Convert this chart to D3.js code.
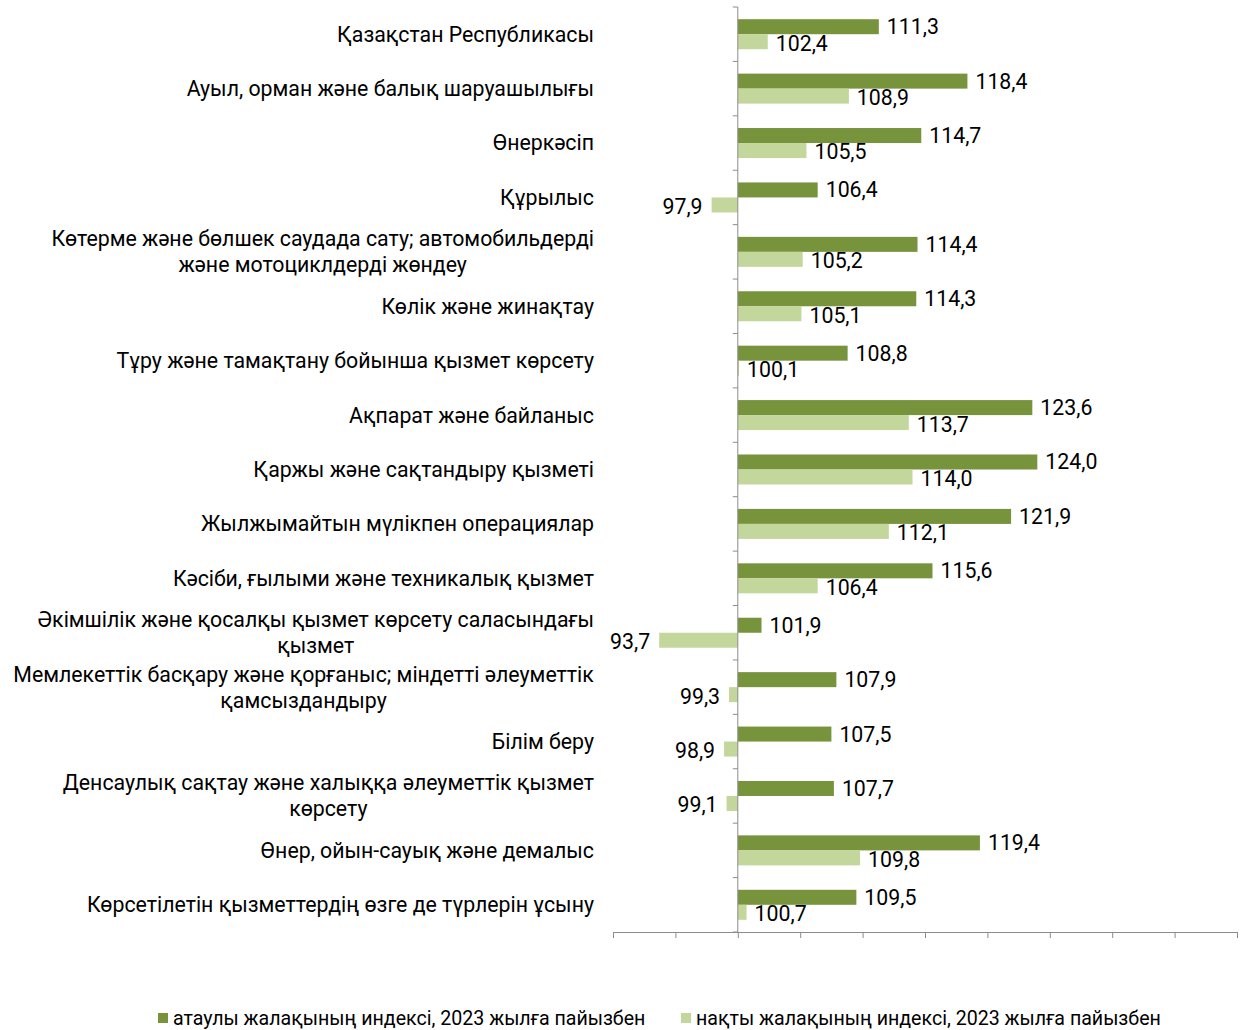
<!DOCTYPE html>
<meta charset="utf-8">
<style>
body { margin: 0; background: #fff; }
text { font-family: Roboto, "Noto Sans", sans-serif; fill: #000; }
.cat { font-size: 21.3px; }
.val { font-size: 21.3px; }
.leg { font-size: 19.6px; }
.axis path, .axis line { stroke: #8c8c8c; }
</style>
<body>
<script src="https://d3js.org/d3.v7.min.js"></script>
<script>
// categories (\n = line break as in the original)
var categories = [
  "Қазақстан Республикасы",
  "Ауыл, орман және балық шаруашылығы",
  "Өнеркәсіп",
  "Құрылыс",
  "Көтерме және бөлшек саудада сату; автомобильдерді\nжәне мотоциклдерді жөндеу",
  "Көлік және жинақтау",
  "Тұру және тамақтану бойынша қызмет көрсету",
  "Ақпарат және байланыс",
  "Қаржы және сақтандыру қызметі",
  "Жылжымайтын мүлікпен операциялар",
  "Кәсіби, ғылыми және техникалық қызмет",
  "Әкімшілік және қосалқы қызмет көрсету саласындағы\nқызмет",
  "Мемлекеттік басқару және қорғаныс; міндетті әлеуметтік\nқамсыздандыру",
  "Білім беру",
  "Денсаулық сақтау және халыққа әлеуметтік қызмет\nкөрсету",
  "Өнер, ойын-сауық және демалыс",
  "Көрсетілетін қызметтердің өзге де түрлерін ұсыну"
];
var nominal = [111.3, 118.4, 114.7, 106.4, 114.4, 114.3, 108.8, 123.6, 124.0, 121.9, 115.6, 101.9, 107.9, 107.5, 107.7, 119.4, 109.5];
var real    = [102.4, 108.9, 105.5, 97.9, 105.2, 105.1, 100.1, 113.7, 114.0, 112.1, 106.4, 93.7, 99.3, 98.9, 99.1, 109.8, 100.7];
var seriesNames = ["атаулы жалақының индексі, 2023 жылға пайызбен", "нақты жалақының индексі, 2023 жылға пайызбен"];
var colors = ["#77933c", "#c3d69b"];
var xTicks = d3.range(90, 141, 5);

var width = 1242, height = 1030;
var svg = d3.select("body").append("svg").attr("width", width).attr("height", height);

var x = d3.scaleLinear().domain([90, 140]).range([613, 1237]);
var y = d3.scaleBand().domain(d3.range(categories.length)).range([7, 932]);
var barH = 15;

var fmt = function(v) { return d3.format(".1f")(v).replace(".", ","); };

// bars
var g = svg.append("g");
[nominal, real].forEach(function(series, si) {
  var off = si === 0 ? -barH : 0;
  g.selectAll(".b" + si).data(series).enter().append("rect")
    .attr("x", function(d) { return x(Math.min(100, d)); })
    .attr("width", function(d) { return Math.abs(x(d) - x(100)); })
    .attr("y", function(d, i) { return y(i) + y.bandwidth() / 2 + off; })
    .attr("height", barH)
    .attr("fill", colors[si]);
  g.selectAll(".v" + si).data(series).enter().append("text")
    .attr("class", "val")
    .attr("x", function(d) { return d >= 100 ? x(d) + 8 : x(d) - 9; })
    .attr("y", function(d, i) { return y(i) + y.bandwidth() / 2 + off + barH / 2 + (si ? 1.5 : 0); })
    .attr("dy", "0.35em")
    .attr("text-anchor", function(d) { return d >= 100 ? "start" : "end"; })
    .text(fmt);
});

// x axis (no labels)
svg.append("g").attr("class", "axis")
  .attr("transform", "translate(0,932)")
  .call(d3.axisBottom(x).tickValues(xTicks).tickSize(6).tickFormat(""));

// vertical axis at 100 with ticks at band edges
var yAxis = svg.append("g").attr("class", "axis");
yAxis.append("line").attr("x1", x(100)).attr("x2", x(100)).attr("y1", 7).attr("y2", 932);
yAxis.selectAll(".yt").data(d3.range(categories.length + 1)).enter().append("line")
  .attr("x1", x(100) - 5).attr("x2", x(100))
  .attr("y1", function(i) { return 7 + i * y.step(); })
  .attr("y2", function(i) { return 7 + i * y.step(); });

// category labels
svg.selectAll(".cat").data(categories).enter().append("text")
  .attr("class", "cat")
  .attr("text-anchor", "middle")
  .each(function(d, i) {
    var lines = d.split("\n");
    var t = d3.select(this);
    var cy = y(i) + y.bandwidth() / 2;
    var lh = 26;
    t.attr("y", cy - (lines.length - 1) * lh / 2);
    lines.forEach(function(l, k) {
      t.append("tspan").attr("x", 0).attr("dy", k === 0 ? "0.35em" : lh).text(l);
    });
  });
// right-align block, center inner lines (like Excel)
svg.selectAll("text.cat").each(function() {
  var t = d3.select(this);
  var bb = this.getBBox();
  var cx = 594 - bb.width / 2;
  t.selectAll("tspan").attr("x", cx);
});

// legend
var leg = svg.append("g");
var legX = [158, 681];
seriesNames.forEach(function(n, i) {
  leg.append("rect").attr("x", legX[i]).attr("y", 1013).attr("width", 10).attr("height", 10).attr("fill", colors[i]);
  leg.append("text").attr("class", "leg").attr("x", legX[i] + 15).attr("y", 1018).attr("dy", "0.35em").text(n);
});
</script>
</body>
